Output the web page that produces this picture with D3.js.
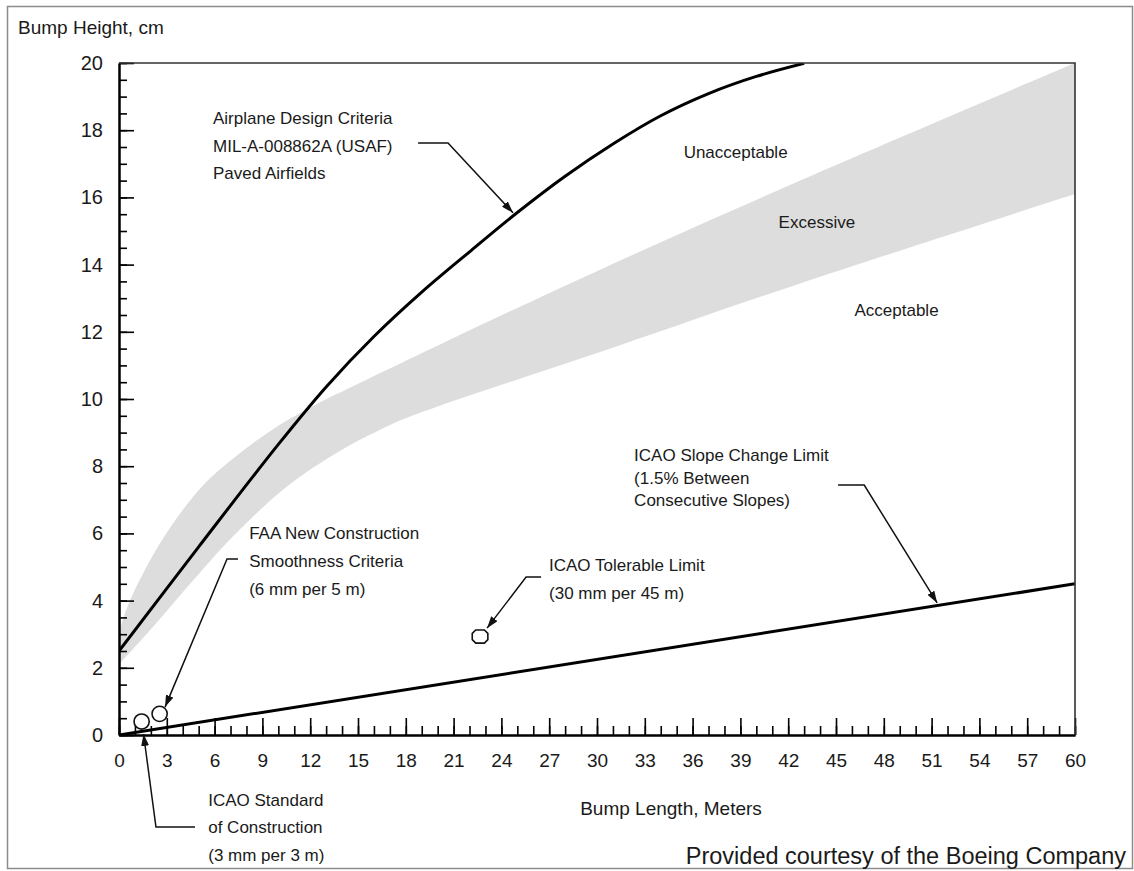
<!DOCTYPE html>
<html>
<head>
<meta charset="utf-8">
<script src="https://cdn.jsdelivr.net/npm/d3@7"></script>
<style>
  html, body { margin: 0; padding: 0; background: #fff; }
  svg { display: block; }
  text { font-family: "Liberation Sans", Arial, sans-serif; fill: #1a1a1a; }
</style>
</head>
<body>
<svg id="chart" width="1134" height="871"></svg>
<script>
// ---------------- DATA ----------------
// Airplane Design Criteria MIL-A-008862A (USAF) curve
const designX = [0, 5, 10, 13, 16, 19, 22, 25, 28, 31, 34, 37, 40, 43];
const designY = [2.5, 5.6, 8.65, 10.36, 11.86, 13.18, 14.38, 15.55, 16.63, 17.59, 18.43, 19.09, 19.6, 19.99];

// "Excessive" shaded band (upper and lower edges)
const bandUpperX = [0, 0.6, 2.7, 5.2, 7.3, 9.6, 12.5, 14.65, 20.7, 30.2, 42.75, 60];
const bandUpperY = [3.05, 3.9, 5.8, 7.39, 8.28, 9.08, 9.87, 10.37, 11.75, 13.85, 16.5, 20];
const bandLowerX = [0, 2.1, 4.8, 7.3, 10.5, 13.6, 17.6, 20, 30.2, 42.75, 60];
const bandLowerY = [2.1, 3.2, 4.68, 5.98, 7.38, 8.38, 9.35, 9.78, 11.4, 13.44, 16.1];

// ICAO slope change limit (1.5% between consecutive slopes)
const slopeX = [0, 60];
const slopeY = [0, 4.5];

// Point criteria
const pointNames = ["ICAO Standard of Construction", "FAA New Construction", "ICAO Tolerable Limit"];
const pointX = [1.42, 2.55, 22.66];
const pointY = [0.4, 0.63, 2.93];
const pointShape = ["circle", "circle", "octagon"];

// Axis ticks
const xMajorTicks = d3.range(0, 61, 3);
const xMinorTicks = d3.range(0, 61, 1);
const yMajorTicks = d3.range(0, 21, 2);
const yMinorTicks = d3.range(0, 20.01, 0.5);

// Region labels
const regionLabels = ["Unacceptable", "Excessive", "Acceptable"];
const regionX = [38.7, 43.8, 48.8];
const regionY = [17.35, 15.28, 12.65];

// Annotations (text anchor in data units) and leader lines (data units)
const noteLines = [
  ["Airplane Design Criteria", "MIL-A-008862A (USAF)", "Paved Airfields"],
  ["FAA New Construction", "Smoothness Criteria", "(6 mm per 5 m)"],
  ["ICAO Tolerable Limit", "(30 mm per 45 m)"],
  ["ICAO Slope Change Limit", "(1.5% Between", "Consecutive Slopes)"],
  ["ICAO Standard", "of Construction", "(3 mm per 3 m)"]
];
const noteX = [5.9, 8.17, 26.99, 32.33, 5.6];
const noteY = [18.17, 5.83, 4.88, 8.14, -2.11];
const noteSpacing = [27.5, 28, 28.3, 22.5, 27.5];

const leaderX = [
  [18.77, 20.65, 24.73],
  [7.47, 6.78, 2.89],
  [26.49, 25.55, 23.1],
  [45.13, 46.77, 51.35],
  [4.77, 2.32, 1.54]
];
const leaderY = [
  [17.62, 17.62, 15.54],
  [5.24, 5.24, 0.83],
  [4.7, 4.7, 3.18],
  [7.44, 7.44, 3.93],
  [-2.74, -2.74, 0.03]
];

// ---------------- CHART ----------------
const svg = d3.select("#chart");
const plot = { left: 119, right: 1075, top: 63, bottom: 735 };

const x = d3.scaleLinear().domain([0, 60]).range([plot.left, plot.right]);
const y = d3.scaleLinear().domain([0, 20]).range([plot.bottom, plot.top]);

// outer frame
svg.append("rect")
  .attr("x", 7.5).attr("y", 6.5)
  .attr("width", 1125).attr("height", 862)
  .attr("fill", "none").attr("stroke", "#8c8c8c").attr("stroke-width", 1.5);

const defs = svg.append("defs");
defs.append("clipPath").attr("id", "plotclip")
  .append("rect")
  .attr("x", plot.left).attr("y", plot.top)
  .attr("width", plot.right - plot.left).attr("height", plot.bottom - plot.top);

defs.append("marker")
  .attr("id", "arrow")
  .attr("viewBox", "0 0 12 8")
  .attr("refX", 12).attr("refY", 4)
  .attr("markerWidth", 12).attr("markerHeight", 8)
  .attr("markerUnits", "userSpaceOnUse")
  .attr("orient", "auto")
  .append("path").attr("d", "M0,0 L12,4 L0,8 Z").attr("fill", "#111");

const g = svg.append("g").attr("clip-path", "url(#plotclip)");
const smooth = d3.curveCatmullRom.alpha(0.5);

// band: upper edge forward, lower edge backward
const upperPts = bandUpperX.map((v, i) => [x(v), y(bandUpperY[i])]);
const lowerPts = bandLowerX.map((v, i) => [x(v), y(bandLowerY[i])]).reverse();
const upperPath = d3.line().curve(smooth)(upperPts);
const lowerPath = d3.line().curve(smooth)(lowerPts);
g.append("path")
  .attr("fill", "#dddddd")
  .attr("d", upperPath + "L" + lowerPath.slice(1) + "Z");

// design curve
const designData = designX.map((v, i) => ({ x: v, y: designY[i] }));
g.append("path")
  .datum(designData)
  .attr("fill", "none").attr("stroke", "#000").attr("stroke-width", 3)
  .attr("d", d3.line().x(d => x(d.x)).y(d => y(d.y)).curve(smooth));

// slope change limit line
const slopeData = slopeX.map((v, i) => ({ x: v, y: slopeY[i] }));
g.append("path")
  .datum(slopeData)
  .attr("fill", "none").attr("stroke", "#000").attr("stroke-width", 3)
  .attr("d", d3.line().x(d => x(d.x)).y(d => y(d.y)));

// axes
const axisStyle = sel => {
  sel.selectAll(".domain").attr("stroke", "#000").attr("stroke-width", 2);
  sel.selectAll(".tick line").attr("stroke", "#000").attr("stroke-width", 1.6);
  sel.selectAll("text").attr("font-size", 19).attr("fill", "#1a1a1a")
    .attr("font-family", "\"Liberation Sans\", Arial, sans-serif");
};

svg.append("g").attr("transform", `translate(0,${plot.bottom})`)
  .call(d3.axisBottom(x).tickValues(xMinorTicks).tickSizeInner(-9).tickSizeOuter(0).tickFormat(""))
  .call(axisStyle);
svg.append("g").attr("transform", `translate(0,${plot.bottom})`)
  .call(d3.axisBottom(x).tickValues(xMajorTicks).tickSizeInner(-17).tickSizeOuter(0).tickPadding(19).tickFormat(d3.format("d")))
  .call(axisStyle);

svg.append("g").attr("transform", `translate(${plot.left},0)`)
  .call(d3.axisLeft(y).tickValues(yMinorTicks).tickSizeInner(-8).tickSizeOuter(0).tickFormat(""))
  .call(axisStyle);
svg.append("g").attr("transform", `translate(${plot.left},0)`)
  .call(d3.axisLeft(y).tickValues(yMajorTicks).tickSizeInner(-15).tickSizeOuter(0).tickPadding(16).tickFormat(d3.format("d")))
  .call(axisStyle)
  .selectAll("text").attr("font-size", 20);

// top and right frame of plot
svg.append("path")
  .attr("d", `M${plot.left},${plot.top} H${plot.right} V${plot.bottom}`)
  .attr("fill", "none").attr("stroke", "#333").attr("stroke-width", 1.6);

// leaders
leaderX.forEach((xs, i) => {
  const pts = xs.map((v, j) => [x(v), y(leaderY[i][j])]);
  svg.append("path")
    .attr("d", d3.line()(pts))
    .attr("fill", "none").attr("stroke", "#111").attr("stroke-width", 1.5)
    .attr("marker-end", "url(#arrow)");
});

// point markers
pointX.forEach((v, i) => {
  const cx = x(v), cy = y(pointY[i]);
  if (pointShape[i] === "circle") {
    svg.append("circle").attr("cx", cx).attr("cy", cy).attr("r", 7.6)
      .attr("fill", "#fff").attr("stroke", "#111").attr("stroke-width", 1.6);
  } else {
    const hw = 7.8, hh = 6.6, c = 3.5;
    const pts = [[-hw + c, -hh], [hw - c, -hh], [hw, -hh + c], [hw, hh - c], [hw - c, hh], [-hw + c, hh], [-hw, hh - c], [-hw, -hh + c]]
      .map(p => [cx + p[0], cy + p[1]]);
    svg.append("path").attr("d", d3.line()(pts) + "Z")
      .attr("fill", "#fff").attr("stroke", "#111").attr("stroke-width", 1.6);
  }
});

// annotation texts
noteLines.forEach((lines, i) => {
  const t = svg.append("text")
    .attr("x", x(noteX[i])).attr("y", y(noteY[i]))
    .attr("font-size", 17);
  lines.forEach((s, j) => {
    t.append("tspan").attr("x", x(noteX[i])).attr("dy", j === 0 ? 0 : noteSpacing[i]).text(s);
  });
});

// region labels
regionLabels.forEach((s, i) => {
  svg.append("text")
    .attr("x", x(regionX[i])).attr("y", y(regionY[i]))
    .attr("dy", "0.35em")
    .attr("text-anchor", "middle")
    .attr("font-size", 17)
    .text(s);
});

// axis titles
svg.append("text").attr("x", 18).attr("y", 34).attr("font-size", 19).text("Bump Height, cm");
svg.append("text").attr("x", 671).attr("y", 815).attr("text-anchor", "middle").attr("font-size", 19).text("Bump Length, Meters");

// credit
svg.append("text").attr("x", 1126).attr("y", 864).attr("text-anchor", "end").attr("font-size", 23.5)
  .attr("fill", "#000").text("Provided courtesy of the Boeing Company");
</script>
</body>
</html>
